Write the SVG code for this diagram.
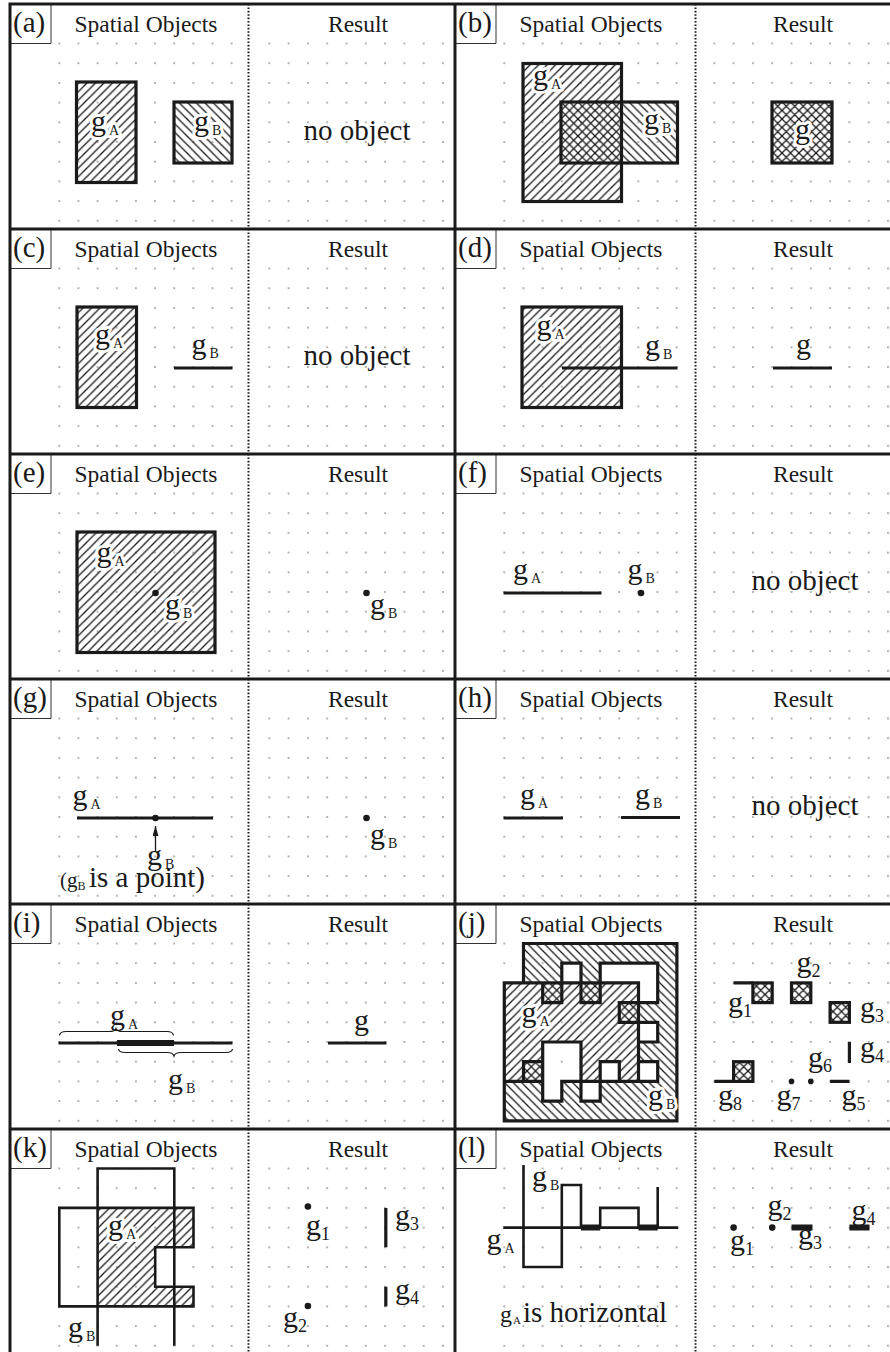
<svg xmlns="http://www.w3.org/2000/svg" width="890" height="1352" viewBox="0 0 890 1352">
<style>
.t{font-family:"Liberation Serif","Times New Roman",serif;fill:#1a1a1a}
.pl{font-size:29px}
.hd{font-size:23.5px;text-anchor:middle}
.no{font-size:29px;text-anchor:middle}
.g{font-size:30px}
.s{font-size:14px}
.n{font-size:18px}
.halo{stroke:#fff;stroke-width:6px;stroke-linejoin:round;paint-order:stroke fill}
.frame{fill:none;stroke:#1a1a1a;stroke-width:3}
.box{fill:none;stroke:#333;stroke-width:1}
.sep{fill:none;stroke:#1a1a1a;stroke-width:2;stroke-dasharray:1.6 1.8}
.obj{stroke:#1a1a1a;stroke-width:3.2}
.ln{fill:none;stroke:#1a1a1a;stroke-width:3.2}
.thin{fill:none;stroke:#1a1a1a;stroke-width:2.6}
.thk{fill:none;stroke:#1a1a1a;stroke-width:6}
.pt{fill:#1a1a1a}
.br{fill:none;stroke:#1a1a1a;stroke-width:1.2}
.arr{fill:none;stroke:#1a1a1a;stroke-width:1.3}
</style>
<defs>
<pattern id="hf" patternUnits="userSpaceOnUse" width="8.5" height="8.5"><path d="M-1,1L1,-1M0,8.5L8.5,0M7.5,9.5L9.5,7.5" stroke="#1a1a1a" stroke-width="1.3"/></pattern>
<pattern id="hb" patternUnits="userSpaceOnUse" width="8.5" height="8.5"><path d="M-1,7.5L1,9.5M0,0L8.5,8.5M7.5,-1L9.5,1" stroke="#1a1a1a" stroke-width="1.3"/></pattern>
<pattern id="hx" patternUnits="userSpaceOnUse" width="8.5" height="8.5"><path d="M-1,1L1,-1M0,8.5L8.5,0M7.5,9.5L9.5,7.5M-1,7.5L1,9.5M0,0L8.5,8.5M7.5,-1L9.5,1" stroke="#1a1a1a" stroke-width="1.3"/></pattern>
<pattern id="dl" patternUnits="userSpaceOnUse" x="39.725" y="29.65" width="19.15" height="19.7"><circle cx="9.575" cy="9.85" r="1.1" fill="#a3a3a3"/></pattern>
<pattern id="dr" patternUnits="userSpaceOnUse" x="249.65" y="29.65" width="19.3" height="19.7"><circle cx="9.65" cy="9.85" r="1.1" fill="#a3a3a3"/></pattern>
<g id="grid"><rect x="39.725" y="29.65" width="191.5" height="197" fill="url(#dl)"/><rect x="249.65" y="29.65" width="193" height="197" fill="url(#dr)"/></g>
<marker id="ah" viewBox="0 0 10 6" refX="10" refY="3" markerWidth="10" markerHeight="6" markerUnits="userSpaceOnUse" orient="auto"><path d="M0,0L10,3L0,6Z" fill="#1a1a1a"/></marker>
</defs>
<rect width="890" height="1352" fill="#fff"/>

<g id="panel-a">
<use href="#grid" x="10" y="4"/>
<text class="t pl" x="13" y="32">(a)</text><path class="box" d="M51,4V43.5H10"/>
<text class="t hd" x="146" y="32">Spatial Objects</text><text class="t hd" x="358" y="32">Result</text>
<line class="sep" x1="248.5" y1="4" x2="248.5" y2="229"/>
<rect class="obj" x="76.5" y="82" width="59.5" height="100.5" fill="url(#hf)"/>
<rect class="obj" x="174" y="102" width="58" height="61" fill="url(#hb)"/>
<text class="t g halo" x="91" y="131">g<tspan class="s" dx="3" dy="4">A</tspan></text>
<text class="t g halo" x="194" y="131">g<tspan class="s" dx="3" dy="4">B</tspan></text>
<text class="t no" x="357" y="139.5">no object</text>
</g>

<g id="panel-b">
<use href="#grid" x="455" y="4"/>
<text class="t pl" x="458" y="32">(b)</text><path class="box" d="M496,4V43.5H455"/>
<text class="t hd" x="591" y="32">Spatial Objects</text><text class="t hd" x="803" y="32">Result</text>
<line class="sep" x1="695.5" y1="4" x2="695.5" y2="229"/>
<rect class="obj" x="523" y="63.5" width="98.5" height="138" fill="url(#hf)"/>
<rect class="obj" x="561" y="102" width="116.5" height="61" fill="url(#hb)"/>
<text class="t g halo" x="533" y="85">g<tspan class="s" dx="3" dy="4">A</tspan></text>
<text class="t g halo" x="644" y="128.5">g<tspan class="s" dx="3" dy="4">B</tspan></text>
<rect class="obj" x="772" y="102" width="60" height="61" fill="url(#hx)"/>
<text class="t g halo" x="795" y="139">g</text>
</g>

<g id="panel-c">
<use href="#grid" x="10" y="229"/>
<text class="t pl" x="13" y="257">(c)</text><path class="box" d="M51,229V268.5H10"/>
<text class="t hd" x="146" y="257">Spatial Objects</text><text class="t hd" x="358" y="257">Result</text>
<line class="sep" x1="248.5" y1="229" x2="248.5" y2="454"/>
<rect class="obj" x="77" y="307" width="59.5" height="100.5" fill="url(#hf)"/>
<path class="ln" d="M174,368H232.5"/>
<text class="t g halo" x="95" y="343.5">g<tspan class="s" dx="3" dy="4">A</tspan></text>
<text class="t g" x="191.5" y="353.5">g<tspan class="s" dx="3" dy="4">B</tspan></text>
<text class="t no" x="357" y="364.5">no object</text>
</g>

<g id="panel-d">
<use href="#grid" x="455" y="229"/>
<text class="t pl" x="458" y="257">(d)</text><path class="box" d="M496,229V268.5H455"/>
<text class="t hd" x="591" y="257">Spatial Objects</text><text class="t hd" x="803" y="257">Result</text>
<line class="sep" x1="695.5" y1="229" x2="695.5" y2="454"/>
<rect class="obj" x="522" y="307" width="99.5" height="100.5" fill="url(#hf)"/>
<path class="ln" d="M562,368H677.5"/>
<text class="t g halo" x="536.5" y="335">g<tspan class="s" dx="3" dy="4">A</tspan></text>
<text class="t g" x="645" y="355">g<tspan class="s" dx="3" dy="4">B</tspan></text>
<path class="ln" d="M773,368H832"/>
<text class="t g" x="796" y="353.5">g</text>
</g>

<g id="panel-e">
<use href="#grid" x="10" y="454"/>
<text class="t pl" x="13" y="482">(e)</text><path class="box" d="M51,454V493.5H10"/>
<text class="t hd" x="146" y="482">Spatial Objects</text><text class="t hd" x="358" y="482">Result</text>
<line class="sep" x1="248.5" y1="454" x2="248.5" y2="679"/>
<rect class="obj" x="77" y="532" width="138" height="120.5" fill="url(#hf)"/>
<text class="t g halo" x="96.5" y="562">g<tspan class="s" dx="3" dy="4">A</tspan></text>
<text class="t g halo" x="165" y="613.5">g<tspan class="s" dx="3" dy="4">B</tspan></text>
<circle class="pt" cx="155.5" cy="593" r="3.3"/>
<circle class="pt" cx="366.5" cy="593" r="3.3"/>
<text class="t g" x="370" y="613.5">g<tspan class="s" dx="3" dy="4">B</tspan></text>
</g>

<g id="panel-f">
<use href="#grid" x="455" y="454"/>
<text class="t pl" x="458" y="482">(f)</text><path class="box" d="M496,454V493.5H455"/>
<text class="t hd" x="591" y="482">Spatial Objects</text><text class="t hd" x="803" y="482">Result</text>
<line class="sep" x1="695.5" y1="454" x2="695.5" y2="679"/>
<path class="ln" d="M503.5,593H601.5"/>
<circle class="pt" cx="641" cy="593" r="3.3"/>
<text class="t g" x="513" y="578.5">g<tspan class="s" dx="3" dy="4">A</tspan></text>
<text class="t g" x="627.5" y="578.5">g<tspan class="s" dx="3" dy="4">B</tspan></text>
<text class="t no" x="805" y="589.5">no object</text>
</g>

<g id="panel-g">
<use href="#grid" x="10" y="679"/>
<text class="t pl" x="13" y="707">(g)</text><path class="box" d="M51,679V718.5H10"/>
<text class="t hd" x="146" y="707">Spatial Objects</text><text class="t hd" x="358" y="707">Result</text>
<line class="sep" x1="248.5" y1="679" x2="248.5" y2="904"/>
<path class="ln" d="M77,818H213"/>
<circle class="pt" cx="155.5" cy="818" r="3.3"/>
<text class="t g" x="72.5" y="805">g<tspan class="s" dx="3" dy="4">A</tspan></text>
<text class="t g" x="147" y="864.5">g<tspan class="s" dx="3" dy="4">B</tspan></text>
<text class="t" y="887"><tspan x="60" font-size="21">(g</tspan><tspan x="77.5" dy="3" font-size="12">B</tspan><tspan x="89" dy="-3" font-size="29">is a point)</tspan></text>
<circle class="pt" cx="366.5" cy="818" r="3.3"/>
<text class="t g" x="370" y="843.5">g<tspan class="s" dx="3" dy="4">B</tspan></text>
</g>

<g id="panel-h">
<use href="#grid" x="455" y="679"/>
<text class="t pl" x="458" y="707">(h)</text><path class="box" d="M496,679V718.5H455"/>
<text class="t hd" x="591" y="707">Spatial Objects</text><text class="t hd" x="803" y="707">Result</text>
<line class="sep" x1="695.5" y1="679" x2="695.5" y2="904"/>
<path class="ln" d="M503.5,818H563M621,817.5H680"/>
<text class="t g" x="520" y="803.5">g<tspan class="s" dx="3" dy="4">A</tspan></text>
<text class="t g" x="635" y="803.5">g<tspan class="s" dx="3" dy="4">B</tspan></text>
<text class="t no" x="805" y="814.5">no object</text>
</g>

<g id="panel-i">
<use href="#grid" x="10" y="904"/>
<text class="t pl" x="13" y="932">(i)</text><path class="box" d="M51,904V943.5H10"/>
<text class="t hd" x="146" y="932">Spatial Objects</text><text class="t hd" x="358" y="932">Result</text>
<line class="sep" x1="248.5" y1="904" x2="248.5" y2="1129"/>
<path class="ln" d="M58.5,1043H232.5"/>
<path class="thk" d="M117,1043H174"/>
<path class="br" d="M59.5,1035.5Q60,1031.5 66,1031.5L109,1031.5Q115,1031.5 116,1028.5Q117,1031.5 123,1031.5L167,1031.5Q173,1031.5 173.5,1035.5"/>
<path class="br" d="M118.5,1049Q119,1052.5 125,1052.5L167,1052.5Q173,1052.5 174,1056Q175,1052.5 181,1052.5L226,1052.5Q232,1052.5 232.5,1049"/>
<text class="t g" x="110" y="1025">g<tspan class="s" dx="3" dy="4">A</tspan></text>
<text class="t g" x="168" y="1088.5">g<tspan class="s" dx="3" dy="4">B</tspan></text>
<path class="ln" d="M328,1043H386.5"/>
<text class="t g" x="354" y="1030">g</text>
</g>

<g id="panel-j">
<use href="#grid" x="455" y="904"/>
<text class="t pl" x="458" y="932">(j)</text><path class="box" d="M496,904V943.5H455"/>
<text class="t hd" x="591" y="932">Spatial Objects</text><text class="t hd" x="803" y="932">Result</text>
<line class="sep" x1="695.5" y1="904" x2="695.5" y2="1129"/>
<path fill="url(#hf)" d="M504.3,982.9H638.5V1042H504.3ZM504.3,1042H542.7V1081.4H504.3ZM581,1042H638.5V1061.7H581ZM581,1061.7H600.2V1081.4H581ZM619.3,1061.7H638.5V1081.4H619.3Z"/>
<path fill="url(#hb)" d="M523.5,943.5H676.9V963.2H523.5ZM523.5,963.2H561.8V982.9H523.5ZM542.7,982.9H561.8V1002.6H542.7ZM581,963.2H600.2V1002.6H581ZM657.7,963.2H676.9V1120.8H657.7ZM619.3,1002.6H657.7V1022.3H619.3ZM638.5,1042H657.7V1061.7H638.5ZM523.5,1061.7H542.7V1081.4H523.5ZM504.3,1081.4H542.7V1101.1H504.3ZM561.8,1081.4H581V1101.1H561.8ZM600.2,1081.4H657.7V1101.1H600.2ZM504.3,1101.1H657.7V1120.8H504.3Z"/>
<path class="ln" stroke-linecap="square" d="M523.5,943.5H676.9M561.8,963.2H581M600.2,963.2H657.7M504.3,982.9H638.5M542.7,1002.6H561.8M581,1002.6H600.2M619.3,1002.6H657.7M619.3,1022.3H657.7M542.7,1042H581M638.5,1042H657.7M523.5,1061.7H542.7M600.2,1061.7H619.3M638.5,1061.7H657.7M504.3,1081.4H542.7M561.8,1081.4H657.7M542.7,1101.1H561.8M581,1101.1H600.2M504.3,1120.8H676.9M504.3,982.9V1120.8M523.5,943.5V982.9M523.5,1061.7V1081.4M542.7,982.9V1002.6M542.7,1042V1101.1M561.8,963.2V1002.6M561.8,1081.4V1101.1M581,963.2V1002.6M581,1042V1101.1M600.2,963.2V1002.6M600.2,1061.7V1101.1M619.3,1002.6V1022.3M619.3,1061.7V1081.4M638.5,982.9V1081.4M657.7,963.2V1002.6M657.7,1022.3V1042M657.7,1061.7V1081.4M676.9,943.5V1120.8"/>
<text class="t g halo" x="521.5" y="1021.5">g<tspan class="s" dx="3" dy="4">A</tspan></text>
<text class="t g halo" x="648" y="1105">g<tspan class="s" dx="3" dy="4">B</tspan></text>
<path class="ln" d="M733.6,982.9H752.9M849.4,1042V1063M830.1,1081.4H849.4M714.3,1081.4H733.6"/>
<rect class="obj" x="752.9" y="982.9" width="19.3" height="19.7" fill="url(#hx)"/>
<rect class="obj" x="791.5" y="982.9" width="19.3" height="19.7" fill="url(#hx)"/>
<rect class="obj" x="830.1" y="1002.6" width="19.3" height="19.7" fill="url(#hx)"/>
<rect class="obj" x="733.6" y="1061.7" width="19.3" height="19.7" fill="url(#hx)"/>
<circle class="pt" cx="810.8" cy="1081.4" r="2.8"/>
<circle class="pt" cx="791.5" cy="1081.4" r="2.8"/>
<text class="t g" x="728" y="1011.5">g<tspan class="n" dy="5">1</tspan></text>
<text class="t g" x="796.5" y="971.5">g<tspan class="n" dy="5">2</tspan></text>
<text class="t g" x="860" y="1016.5">g<tspan class="n" dy="5">3</tspan></text>
<text class="t g" x="860" y="1056.5">g<tspan class="n" dy="5">4</tspan></text>
<text class="t g" x="841.5" y="1105">g<tspan class="n" dy="5">5</tspan></text>
<text class="t g" x="808" y="1066.5">g<tspan class="n" dy="5">6</tspan></text>
<text class="t g" x="776.5" y="1105">g<tspan class="n" dy="5">7</tspan></text>
<text class="t g" x="718" y="1105">g<tspan class="n" dy="5">8</tspan></text>
</g>

<g id="panel-k">
<use href="#grid" x="10" y="1129"/>
<text class="t pl" x="13" y="1157">(k)</text><path class="box" d="M51,1129V1168.5H10"/>
<text class="t hd" x="146" y="1157">Spatial Objects</text><text class="t hd" x="358" y="1157">Result</text>
<line class="sep" x1="248.5" y1="1129" x2="248.5" y2="1352"/>
<path fill="url(#hf)" d="M97.6,1207.9H193.5V1247.3H155.2V1286.7H193.5V1306.4H97.6Z"/>
<path class="thin" d="M59.3,1207.9H193.5V1247.3H155.2V1286.7H193.5V1306.4H59.3Z"/>
<path class="thin" d="M97.6,1345.8V1168.5H174.3V1345.8"/>
<text class="t g halo" x="108" y="1235">g<tspan class="s" dx="3" dy="4">A</tspan></text>
<text class="t g" x="68" y="1337">g<tspan class="s" dx="3" dy="4">B</tspan></text>
<circle class="pt" cx="307.9" cy="1206.5" r="3.3"/>
<circle class="pt" cx="307.9" cy="1306" r="3.3"/>
<path class="ln" d="M385.8,1207.9V1247.3M385.8,1286.7V1306.4"/>
<text class="t g" x="306" y="1235">g<tspan class="n" dy="5">1</tspan></text>
<text class="t g" x="283" y="1327">g<tspan class="n" dy="5">2</tspan></text>
<text class="t g" x="395" y="1225">g<tspan class="n" dy="5">3</tspan></text>
<text class="t g" x="395" y="1298.5">g<tspan class="n" dy="5">4</tspan></text>
</g>

<g id="panel-l">
<use href="#grid" x="455" y="1129"/>
<text class="t pl" x="458" y="1157">(l)</text><path class="box" d="M496,1129V1168.5H455"/>
<text class="t hd" x="591" y="1157">Spatial Objects</text><text class="t hd" x="803" y="1157">Result</text>
<line class="sep" x1="695.5" y1="1129" x2="695.5" y2="1352"/>
<path class="thin" d="M503.3,1227.6H678.3"/>
<path class="thin" d="M523.5,1165V1267H561.8V1185H581V1227.6H600.2V1207.9H638.5V1227.6H657.7V1187"/>
<path class="thk" d="M581,1227.6H600.2M638.5,1227.6H657.7"/>
<text class="t g" x="532" y="1186">g<tspan class="s" dx="3" dy="4">B</tspan></text>
<text class="t g" x="486.5" y="1248.5">g<tspan class="s" dx="3" dy="4">A</tspan></text>
<text class="t" y="1322"><tspan x="500" font-size="24">g</tspan><tspan x="513" dy="2" font-size="11">A</tspan><tspan x="523" dy="-2" font-size="29">is horizontal</tspan></text>
<circle class="pt" cx="733.6" cy="1227.6" r="3.3"/>
<circle class="pt" cx="772.2" cy="1227.6" r="3.3"/>
<path class="thk" d="M791.5,1227.6H812.5M849.4,1227.6H869.5"/>
<text class="t g" x="730" y="1250">g<tspan class="n" dy="5">1</tspan></text>
<text class="t g" x="767.5" y="1215">g<tspan class="n" dy="5">2</tspan></text>
<text class="t g" x="798" y="1243.5">g<tspan class="n" dy="5">3</tspan></text>
<text class="t g" x="851.5" y="1220">g<tspan class="n" dy="5">4</tspan></text>
</g>

<g id="connectors">
<line class="arr" x1="155.5" y1="851" x2="155.5" y2="826" marker-end="url(#ah)"/>
</g>

<g id="frame">
<path class="frame" d="M10,4H890M10,229H890M10,454H890M10,679H890M10,904H890M10,1129H890M10,2.5V1352M455,2.5V1352"/>
</g>
</svg>
